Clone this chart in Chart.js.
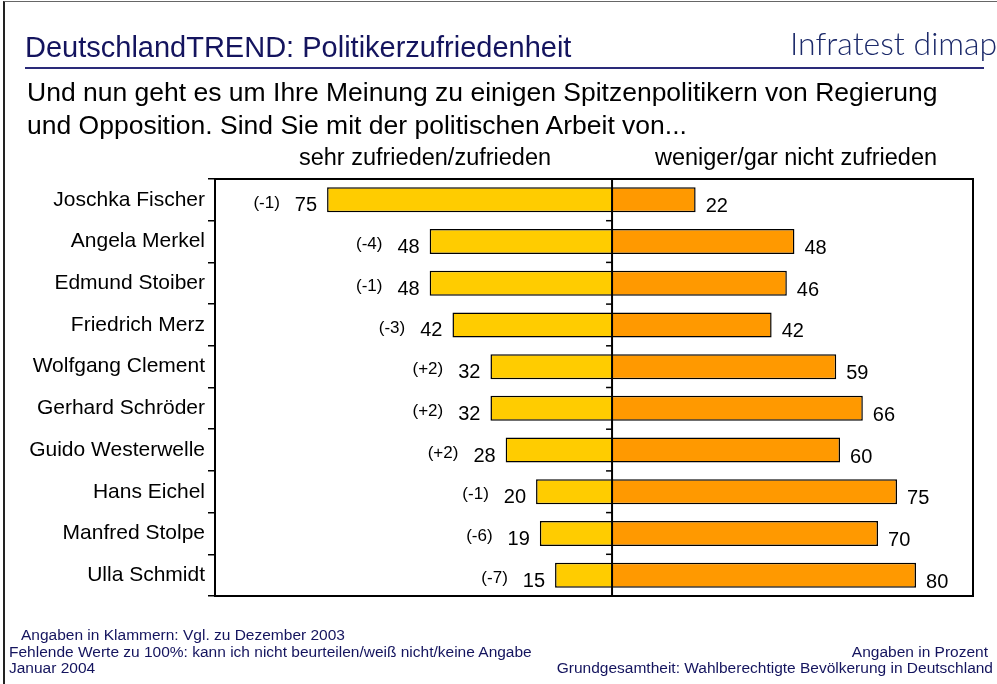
<!DOCTYPE html>
<html>
<head>
<meta charset="utf-8">
<script src="https://cdn.jsdelivr.net/npm/chart.js@4"></script>
<style>
  html, body { margin: 0; padding: 0; background: #fff; }
  #wrap { position: relative; width: 997px; height: 684px; overflow: hidden; font-family: "Liberation Sans", Arial, sans-serif; }
  #c { position: absolute; left: 0; top: 0; }
  .t { position: absolute; white-space: nowrap; line-height: 1; }
  .navy { color: #14145e; }
</style>
</head>
<body>
<div id="wrap">
  <canvas id="c" width="997" height="684"></canvas>
  <div style="position:absolute;left:3px;top:1px;width:1000px;height:700px;border-left:2px solid #222;border-top:1px solid #666;"></div>
  <div class="t navy" style="left:25px;top:33px;font-size:29px;">DeutschlandTREND: Politikerzufriedenheit</div>
  <div class="t" style="left:790px;top:27px;font-size:32px;font-family:Lato;font-weight:300;color:#1c2a6a;">Infratest dimap</div>
  <div style="position:absolute;left:25px;top:67px;width:959px;height:2px;background:#2a2a78;"></div>
  <div class="t" style="left:27px;top:79px;font-size:26.5px;color:#000;">Und nun geht es um Ihre Meinung zu einigen Spitzenpolitikern von Regierung</div>
  <div class="t" style="left:27px;top:112px;font-size:26.5px;color:#000;">und Opposition. Sind Sie mit der politischen Arbeit von...</div>
  <div class="t" style="left:425px;top:146px;font-size:23.5px;color:#000;transform:translateX(-50%);">sehr zufrieden/zufrieden</div>
  <div class="t" style="left:796px;top:146px;font-size:23.5px;color:#000;transform:translateX(-50%);">weniger/gar nicht zufrieden</div>
  <div class="t navy" style="left:21px;top:627px;font-size:15.5px;">Angaben in Klammern: Vgl. zu Dezember 2003</div>
  <div class="t navy" style="left:9px;top:644px;font-size:15.5px;">Fehlende Werte zu 100%: kann ich nicht beurteilen/weiß nicht/keine Angabe</div>
  <div class="t navy" style="left:9px;top:660px;font-size:15.5px;">Januar 2004</div>
  <div class="t navy" style="right:9px;top:644px;font-size:15.5px;">Angaben in Prozent</div>
  <div class="t navy" style="right:4px;top:660px;font-size:15.5px;">Grundgesamtheit: Wahlberechtigte Bevölkerung in Deutschland</div>
</div>
<script>
// Politikerzufriedenheit, Januar 2004
var politicians = ['Joschka Fischer', 'Angela Merkel', 'Edmund Stoiber', 'Friedrich Merz',
  'Wolfgang Clement', 'Gerhard Schröder', 'Guido Westerwelle', 'Hans Eichel',
  'Manfred Stolpe', 'Ulla Schmidt'];
var satisfied = [75, 48, 48, 42, 32, 32, 28, 20, 19, 15];
var unsatisfied = [22, 48, 46, 42, 59, 66, 60, 75, 70, 80];
var changes = ['(-1)', '(-4)', '(-1)', '(-3)', '(+2)', '(+2)', '(+2)', '(-1)', '(-6)', '(-7)'];

var FONT = '"Liberation Sans", Arial, sans-serif';

var framePlugin = {
  id: 'frame',
  afterDatasetsDraw: function(chart) {
    var ctx = chart.ctx;
    var area = chart.chartArea;
    var x0 = chart.scales.x.getPixelForValue(0);
    ctx.save();
    ctx.strokeStyle = '#000';
    ctx.lineWidth = 2;
    ctx.strokeRect(area.left, area.top, area.right - area.left, area.bottom - area.top);
    // middle line
    ctx.beginPath();
    ctx.moveTo(x0, area.top);
    ctx.lineTo(x0, area.bottom);
    ctx.stroke();
    // small ticks on the middle line
    ctx.lineWidth = 1.5;
    var step = (area.bottom - area.top) / politicians.length;
    for (var i = 1; i < politicians.length; i++) {
      var yy = area.top + i * step;
      ctx.beginPath();
      ctx.moveTo(x0 - 6, yy);
      ctx.lineTo(x0, yy);
      ctx.stroke();
    }

    // value labels
    ctx.fillStyle = '#000';
    ctx.textBaseline = 'middle';
    var left = chart.getDatasetMeta(0).data;
    var right = chart.getDatasetMeta(1).data;
    left.forEach(function(el, i) {
      ctx.font = '20px ' + FONT;
      ctx.textAlign = 'right';
      var txt = String(satisfied[i]);
      var tx = el.x - 10;
      ctx.fillText(txt, tx, el.y + 6);
      var w = ctx.measureText(txt).width;
      ctx.font = '17px ' + FONT;
      ctx.fillText(changes[i], tx - w - 15, el.y + 3);
    });
    right.forEach(function(el, i) {
      ctx.font = '20px ' + FONT;
      ctx.textAlign = 'left';
      ctx.fillText(String(unsatisfied[i]), el.x + 10, el.y + 7);
    });
    ctx.restore();
  }
};

new Chart(document.getElementById('c'), {
  type: 'bar',
  data: {
    labels: politicians,
    datasets: [{
      label: 'sehr zufrieden/zufrieden',
      data: satisfied.map(function(v) { return -v; }),
      backgroundColor: '#ffcc00',
      borderColor: '#000',
      borderWidth: 1.5,
      barPercentage: 0.6,
      categoryPercentage: 1
    }, {
      label: 'weniger/gar nicht zufrieden',
      data: unsatisfied,
      backgroundColor: '#ff9900',
      borderColor: '#000',
      borderWidth: 1.5,
      barPercentage: 0.6,
      categoryPercentage: 1
    }]
  },
  options: {
    indexAxis: 'y',
    responsive: false,
    animation: false,
    layout: { padding: { left: 0, top: 179, right: 24, bottom: 88 } },
    plugins: { legend: { display: false }, tooltip: { enabled: false } },
    scales: {
      x: { stacked: true, min: -104.5, max: 95, display: false },
      y: {
        stacked: true,
        grid: { display: true, drawOnChartArea: false, drawTicks: true, tickLength: 7, color: '#000', lineWidth: 1.5, offset: true },
        border: { display: true, color: '#000', width: 2 },
        ticks: { color: '#000', font: { size: 21, family: FONT }, padding: 3 },
        afterFit: function(scale) { scale.width = 215; }
      }
    }
  },
  plugins: [framePlugin]
});
</script>
</body>
</html>
